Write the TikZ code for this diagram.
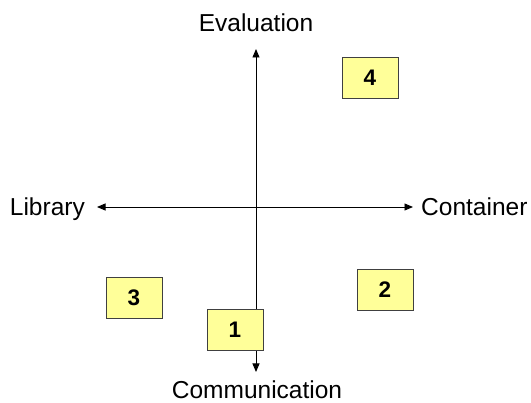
\documentclass[tikz,border=0pt]{standalone}
\usepackage{fontspec}
\setmainfont{Liberation Sans}
\usetikzlibrary{arrows.meta}
\definecolor{boxyellow}{HTML}{FFFF99}
\tikzset{
  quadbox/.style={draw=black!75, fill=boxyellow, line width=0.8pt,
    minimum width=56pt, minimum height=41pt, inner sep=0pt,
    font=\fontsize{22.5}{26}\selectfont\bfseries},
  axislabel/.style={inner sep=0pt, font=\fontsize{24.5}{28}\selectfont},
  axisline/.style={line width=0.9pt,
    {Triangle[length=8.5pt,width=7pt]}-{Triangle[length=8.5pt,width=7pt]}}
}

\begin{document}
\begin{tikzpicture}[x=1pt,y=-1pt]
	\useasboundingbox (0,0) rectangle (531,403);

	% ends of the two axes
	\coordinate (top) at (256,49);
	\coordinate (bottom) at (256,372);
	\coordinate (left) at (97,207);
	\coordinate (right) at (413,207);

	\draw[axisline] (left) -- (right);
	\draw[axisline] (top) -- (bottom);

	\node[axislabel, anchor=base] (eval) at (256,32) {Evaluation};
	\node[axislabel, anchor=base] (comm) at (257,399) {Communication};
	\node[axislabel, anchor=base east] (lib) at (85,216) {Library};
	\node[axislabel, anchor=base west] (cont) at (421,216) {Container};

	% the four quadrant boxes
	\node[quadbox] (q1) at (235,330) {1};
	\node[quadbox] (q2) at (385,290) {2};
	\node[quadbox] (q3) at (134,298) {3};
	\node[quadbox] (q4) at (370,77.5) {4};
\end{tikzpicture}
\end{document}
